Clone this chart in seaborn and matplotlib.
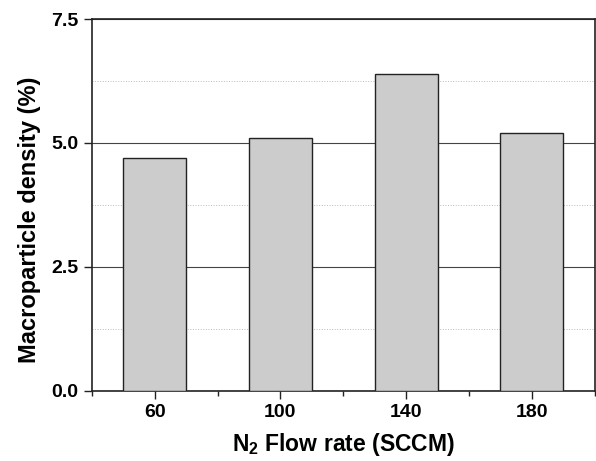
import matplotlib
matplotlib.use('Agg')
import matplotlib.pyplot as plt
from matplotlib.ticker import MultipleLocator, FixedLocator
import seaborn as sns
import pandas as pd

# N2 flow rate (SCCM) vs macroparticle density (%)
flow_rate = [60, 100, 140, 180]
density = [4.7, 5.1, 6.4, 5.2]
x_ticklabels = ['60', '100', '140', '180']

df = pd.DataFrame({'flow': flow_rate, 'density': density})

sns.set_style('white')
plt.rcParams['font.family'] = ['Liberation Sans', 'DejaVu Sans']
plt.rcParams['font.weight'] = 'bold'
plt.rcParams['text.color'] = 'black'
plt.rcParams['axes.labelcolor'] = 'black'
plt.rcParams['xtick.color'] = 'black'
plt.rcParams['ytick.color'] = 'black'
plt.rcParams['mathtext.fontset'] = 'custom'
plt.rcParams['mathtext.rm'] = 'Liberation Sans:bold'
plt.rcParams['mathtext.bf'] = 'Liberation Sans:bold'

fig = plt.figure(figsize=(5.96, 4.61), dpi=100)
ax = fig.add_axes([0.154, 0.1525, 0.844, 0.806])

sns.barplot(data=df, x='flow', y='density', native_scale=True, width=0.5,
            color='#cccccc', edgecolor='#222222', linewidth=1.0,
            saturation=1, ax=ax, zorder=3)

ax.set_xlim(40, 200)
ax.set_ylim(0, 7.5)

ax.yaxis.set_major_locator(MultipleLocator(2.5))
ax.yaxis.set_minor_locator(MultipleLocator(1.25))
ax.yaxis.set_major_formatter(plt.FuncFormatter('{:.1f}'.format))
ax.xaxis.set_major_locator(FixedLocator(flow_rate))
ax.set_xticklabels(x_ticklabels)
ax.xaxis.set_minor_locator(FixedLocator([40, 80, 120, 160, 200]))

ax.grid(True, which='major', axis='y', color='#444444', linewidth=0.8, linestyle='-', zorder=0)
ax.grid(True, which='minor', axis='y', color='#bbbbbb', linewidth=0.7, linestyle=':', zorder=0)
ax.set_axisbelow(True)

for s in ax.spines.values():
    s.set_color('#222222')
    s.set_linewidth(1.2)

ax.tick_params(axis='both', which='major', direction='out', length=6, width=1.0,
               labelsize=14, color='#222222', bottom=True, left=True)
ax.tick_params(axis='x', which='minor', direction='out', length=3.5, width=1.0,
               bottom=True, color='#222222')
ax.tick_params(axis='y', which='minor', left=False)
for lbl in ax.get_xticklabels() + ax.get_yticklabels():
    lbl.set_fontweight('bold')

ax.set_xlabel('N$_2$ Flow rate (SCCM)', fontsize=16.5, fontweight='bold', labelpad=7)
ax.set_ylabel('Macroparticle density (%)', fontsize=17, fontweight='bold')
ax.yaxis.set_label_coords(-0.10, 0.46)

fig.savefig('out.png', dpi=100)
